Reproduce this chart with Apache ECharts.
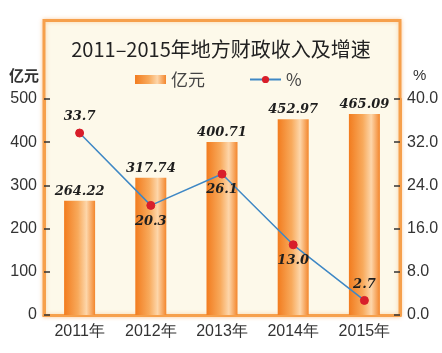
<!DOCTYPE html>
<html>
<head>
<meta charset="utf-8">
<script src="https://cdn.jsdelivr.net/npm/echarts@6/dist/echarts.min.js"></script>
<style>
html, body { margin: 0; padding: 0; background: #fff; }
#chart { width: 442px; height: 353px; }
</style>
</head>
<body>
<div id="chart"></div>
<script>
// 数据
var years = ["2011年", "2012年", "2013年", "2014年", "2015年"];
var income = [264.22, 317.74, 400.71, 452.97, 465.09];
var growth = [33.7, 20.3, 26.1, 13.0, 2.7];
// 增速标签位置（上/下）
var growthLabelPos = ["top", "bottom", "bottom", "bottom", "top"];

var myChart = echarts.init(document.getElementById("chart"));

var barColor = new echarts.graphic.LinearGradient(0, 0, 1, 0, [
    { offset: 0, color: "#f27c1f" },
    { offset: 0.45, color: "#f8aa5c" },
    { offset: 0.72, color: "#fdd6aa" },
    { offset: 1, color: "#f3862c" }
]);

var numFont = {
    fontFamily: "DejaVu Serif",
    fontStyle: "italic",
    fontWeight: "bold",
    fontSize: 13,
    color: "#1e1e1e"
};

var option = {
    backgroundColor: "#ffffff",
    animation: false,
    graphic: [
        {
            type: "rect",
            z: -10,
            silent: true,
            shape: { x: 44, y: 20.5, width: 356, height: 295 },
            style: {
                fill: "#fdf9ea",
                stroke: "#f6a04c",
                lineWidth: 3,
                shadowBlur: 4,
                shadowColor: "rgba(246,160,76,0.45)"
            }
        }
    ],
    title: {
        text: "2011–2015年地方财政收入及增速",
        left: "center",
        top: 34,
        textStyle: {
            fontFamily: "Noto Sans CJK SC",
            fontSize: 20,
            fontWeight: "normal",
            color: "#222"
        }
    },
    legend: {
        top: 66,
        left: 130,
        itemGap: 44,
        textStyle: {
            fontFamily: "Noto Sans CJK SC",
            fontSize: 17,
            color: "#444"
        },
        data: [
            { name: "亿元", icon: "rect", itemStyle: { color: barColor } },
            { name: "%" }
        ],
        itemWidth: 31,
        itemHeight: 9
    },
    grid: {
        left: 44,
        right: 42,
        top: 99,
        bottom: 38,
        containLabel: false
    },
    xAxis: {
        type: "category",
        data: years,
        axisLine: { lineStyle: { color: "#f6a04c", width: 3 } },
        axisTick: { show: false },
        axisLabel: {
            margin: 9,
            fontFamily: "Liberation Sans",
            fontSize: 16,
            color: "#333"
        }
    },
    yAxis: [
        {
            type: "value",
            name: "亿元",
            nameLocation: "end",
            nameGap: 16,
            nameTextStyle: {
                fontFamily: "Noto Sans CJK SC",
                fontSize: 15,
                fontWeight: "bold",
                color: "#333",
                align: "right",
                padding: [0, 5, 0, 0]
            },
            min: 0,
            max: 500,
            interval: 100,
            splitLine: { show: false },
            axisLine: { show: true, lineStyle: { color: "#f6a04c", width: 3 } },
            axisTick: { show: true, inside: true, length: 6, lineStyle: { color: "#333", width: 1.5 } },
            axisLabel: {
                margin: 7,
                fontFamily: "Liberation Sans",
                fontSize: 16,
                color: "#333"
            }
        },
        {
            type: "value",
            name: "%",
            nameLocation: "end",
            nameGap: 16,
            nameTextStyle: {
                fontFamily: "Liberation Sans",
                fontSize: 15,
                color: "#333",
                align: "left",
                padding: [0, 0, 0, 13]
            },
            min: 0,
            max: 40,
            interval: 8,
            position: "right",
            splitLine: { show: false },
            axisLine: { show: true, lineStyle: { color: "#f6a04c", width: 3 } },
            axisTick: { show: true, inside: true, length: 6, lineStyle: { color: "#333", width: 1.5 } },
            axisLabel: {
                margin: 7,
                fontFamily: "Liberation Sans",
                fontSize: 16,
                color: "#333",
                formatter: function (v) { return v.toFixed(1); }
            }
        }
    ],
    series: [
        {
            name: "亿元",
            type: "bar",
            barWidth: 31,
            data: income,
            itemStyle: { color: barColor },
            label: {
                show: true,
                position: "top",
                distance: 3,
                formatter: function (p) { return p.value.toFixed(2); },
                fontFamily: numFont.fontFamily,
                fontStyle: numFont.fontStyle,
                fontWeight: numFont.fontWeight,
                fontSize: numFont.fontSize,
                color: numFont.color
            }
        },
        {
            name: "%",
            type: "line",
            yAxisIndex: 1,
            z: 5,
            symbol: "circle",
            symbolSize: 8,
            data: growth.map(function (v, i) {
                return { value: v, label: { position: growthLabelPos[i] } };
            }),
            lineStyle: { color: "#3f88c5", width: 1.5 },
            itemStyle: { color: "#d81e2a", borderColor: "#d81e2a" },
            label: {
                show: true,
                distance: 5,
                formatter: function (p) { return p.value.toFixed(1); },
                fontFamily: numFont.fontFamily,
                fontStyle: numFont.fontStyle,
                fontWeight: numFont.fontWeight,
                fontSize: numFont.fontSize,
                color: numFont.color
            }
        }
    ]
};

myChart.setOption(option);
window.addEventListener("resize", function () {
    myChart.resize();
});
</script>
</body>
</html>
